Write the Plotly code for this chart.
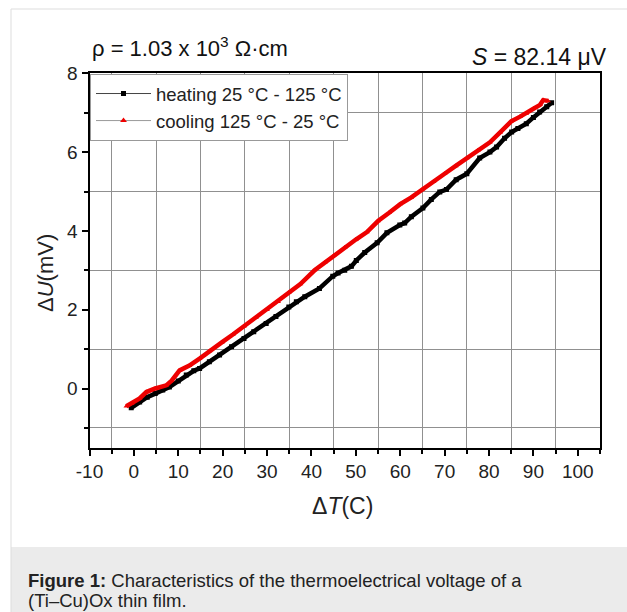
import plotly.graph_objects as go

# ---------------- data ----------------
heat_x = [-0.6, 1.3, 3.0, 4.8, 6.5, 8.0, 10.0, 11.8, 13.5, 14.8, 17.0, 19.3, 22.0, 24.8,
          27.0, 29.8, 32.0, 34.9, 36.6, 38.5, 41.8, 44.8, 46.0, 47.5, 49.0, 50.1, 52.0,
          54.8, 57.0, 59.9, 61.0, 62.5, 65.1, 67.0, 68.9, 70.4, 72.6, 75.0, 77.9, 80.2,
          81.7, 83.5, 85.1, 86.5, 88.4, 90.0, 91.4, 93.0, 94.1]
heat_y = [-0.49, -0.34, -0.22, -0.13, -0.04, 0.04, 0.19, 0.34, 0.45, 0.51, 0.68, 0.85, 1.06,
          1.27, 1.44, 1.65, 1.83, 2.07, 2.20, 2.33, 2.54, 2.85, 2.93, 3.00, 3.10, 3.25, 3.45,
          3.70, 3.95, 4.15, 4.20, 4.36, 4.58, 4.80, 4.99, 5.05, 5.30, 5.45, 5.85, 6.00,
          6.13, 6.35, 6.51, 6.60, 6.72, 6.88, 7.02, 7.15, 7.25]

cool_x = [-1.7, -0.5, 1.3, 2.8, 4.8, 7.3, 8.5, 10.3, 12.5, 14.8, 17.0, 19.8, 22.3, 24.8,
          27.5, 30.0, 32.5, 34.9, 37.5, 40.7, 43.0, 45.0, 47.5, 50.0, 52.5, 55.0, 57.5,
          60.0, 62.5, 65.0, 67.5, 70.0, 72.5, 75.0, 77.5, 80.2, 82.5, 85.0, 87.0, 88.4,
          90.0, 91.5, 92.2, 93.3]
cool_y = [-0.45, -0.38, -0.25, -0.09, 0.00, 0.08, 0.20, 0.46, 0.58, 0.76, 0.95, 1.17, 1.37,
          1.58, 1.80, 2.00, 2.20, 2.43, 2.65, 3.00, 3.20, 3.37, 3.58, 3.78, 3.97, 4.25, 4.46,
          4.68, 4.85, 5.06, 5.25, 5.45, 5.65, 5.85, 6.05, 6.25, 6.50, 6.78, 6.90, 6.98,
          7.10, 7.20, 7.32, 7.30]

series_names = ["heating 25 °C - 125 °C", "cooling 125 °C - 25 °C"]
x_ticks = list(range(-10, 101, 10))
y_ticks = [0, 2, 4, 6, 8]
x_minor = list(range(-5, 106, 10))
y_minor = [-1, 1, 3, 5, 7]

W, H = 627, 612
def px(x):
    return x / W
def py(y):
    return 1 - y / H

FONT = "Liberation Sans, Arial, sans-serif"

fig = go.Figure()

# data traces (thick, dense look)
fig.add_trace(go.Scatter(x=heat_x, y=heat_y, mode="lines+markers",
                         line=dict(color="black", width=4.5),
                         marker=dict(symbol="square", size=5, color="black"),
                         showlegend=False, hoverinfo="skip"))
fig.add_trace(go.Scatter(x=cool_x, y=cool_y, mode="lines+markers",
                         line=dict(color="#ee0000", width=4.5),
                         marker=dict(symbol="triangle-up", size=5, color="#ee0000"),
                         showlegend=False, hoverinfo="skip"))
# legend entries
fig.add_trace(go.Scatter(x=[None], y=[None], mode="lines+markers", name=series_names[0],
                         line=dict(color="#444444", width=1),
                         marker=dict(symbol="square", size=5, color="black")))
fig.add_trace(go.Scatter(x=[None], y=[None], mode="lines+markers", name=series_names[1],
                         line=dict(color="#999999", width=1),
                         marker=dict(symbol="triangle-up", size=6, color="#ee0000")))

fig.update_layout(
    width=W, height=H, autosize=False,
    margin=dict(l=0, r=0, t=0, b=0, autoexpand=False),
    paper_bgcolor="white", plot_bgcolor="white",
    font=dict(family=FONT, color="#222222", size=18),
    showlegend=True,
    legend=dict(x=px(90), y=py(74), xanchor="left", yanchor="top",
                bgcolor="white", bordercolor="#999999", borderwidth=1,
                font=dict(size=18.5, family=FONT, color="#222222"),
                tracegroupgap=0, itemwidth=55),
    xaxis=dict(domain=[px(89.5), px(600)], range=[-10, 105], automargin=False,
               tickmode="array", tickvals=x_ticks, ticktext=[str(v) for v in x_ticks],
               ticks="outside", ticklen=6, tickwidth=1.5, tickcolor="black",
               showline=True, linecolor="black", linewidth=2, mirror=True,
               showgrid=False, zeroline=False,
               tickfont=dict(size=19, family=FONT, color="#222222"),
               minor=dict(tickmode="array", tickvals=x_minor, ticks="outside", ticklen=4,
                          tickcolor="black", showgrid=True, gridcolor="#909090", gridwidth=1)),
    yaxis=dict(domain=[py(447.6), py(73.3)], range=[-1.5, 8], automargin=False,
               tickmode="array", tickvals=y_ticks, ticktext=[str(v) for v in y_ticks],
               ticks="outside", ticklen=6, tickwidth=1.5, tickcolor="black",
               showline=True, linecolor="black", linewidth=2, mirror=True,
               showgrid=False, zeroline=False,
               tickfont=dict(size=19, family=FONT, color="#222222"),
               minor=dict(tickmode="array", tickvals=y_minor, ticks="outside", ticklen=4,
                          tickcolor="black", showgrid=True, gridcolor="#909090", gridwidth=1)),
)

# card border and caption background
fig.add_shape(type="rect", xref="paper", yref="paper",
              x0=px(11), y0=py(547), x1=px(720), y1=py(720),
              fillcolor="#ebebeb", line=dict(width=0), layer="below")
fig.add_shape(type="rect", xref="paper", yref="paper",
              x0=px(11), y0=py(720), x1=px(720), y1=py(9),
              fillcolor="rgba(0,0,0,0)", line=dict(color="#dddddd", width=1), layer="below")

# annotations
fig.add_annotation(xref="paper", yref="paper", x=px(90), y=py(63),
                   xanchor="left", yanchor="bottom", showarrow=False,
                   text="ρ = 1.03 x 10<sup>3</sup> Ω·cm",
                   font=dict(size=22, family=FONT, color="#111111"))
fig.add_annotation(xref="paper", yref="paper", x=px(609), y=py(72),
                   xanchor="right", yanchor="bottom", showarrow=False,
                   text="<i>S</i> = 82.14 μV",
                   font=dict(size=23, family=FONT, color="#111111"))
fig.add_annotation(xref="paper", yref="paper", x=px(45), y=py(273),
                   xanchor="center", yanchor="middle", showarrow=False, textangle=-90,
                   text="Δ<i>U</i>(mV)",
                   font=dict(size=22, family=FONT, color="#222222"))
fig.add_annotation(xref="paper", yref="paper", x=px(342), y=py(506),
                   xanchor="center", yanchor="middle", showarrow=False,
                   text="Δ<i>T</i>(C)",
                   font=dict(size=23, family=FONT, color="#222222"))
fig.add_annotation(xref="paper", yref="paper", x=px(26), y=py(580),
                   xanchor="left", yanchor="middle", showarrow=False, align="left",
                   text="<b>Figure 1:</b> Characteristics of the thermoelectrical voltage of a",
                   font=dict(size=18.5, family=FONT, color="#222222"))
fig.add_annotation(xref="paper", yref="paper", x=px(26), y=py(600),
                   xanchor="left", yanchor="middle", showarrow=False, align="left",
                   text="(Ti–Cu)Ox thin film.",
                   font=dict(size=18.5, family=FONT, color="#222222"))

fig.write_html("out.html")
